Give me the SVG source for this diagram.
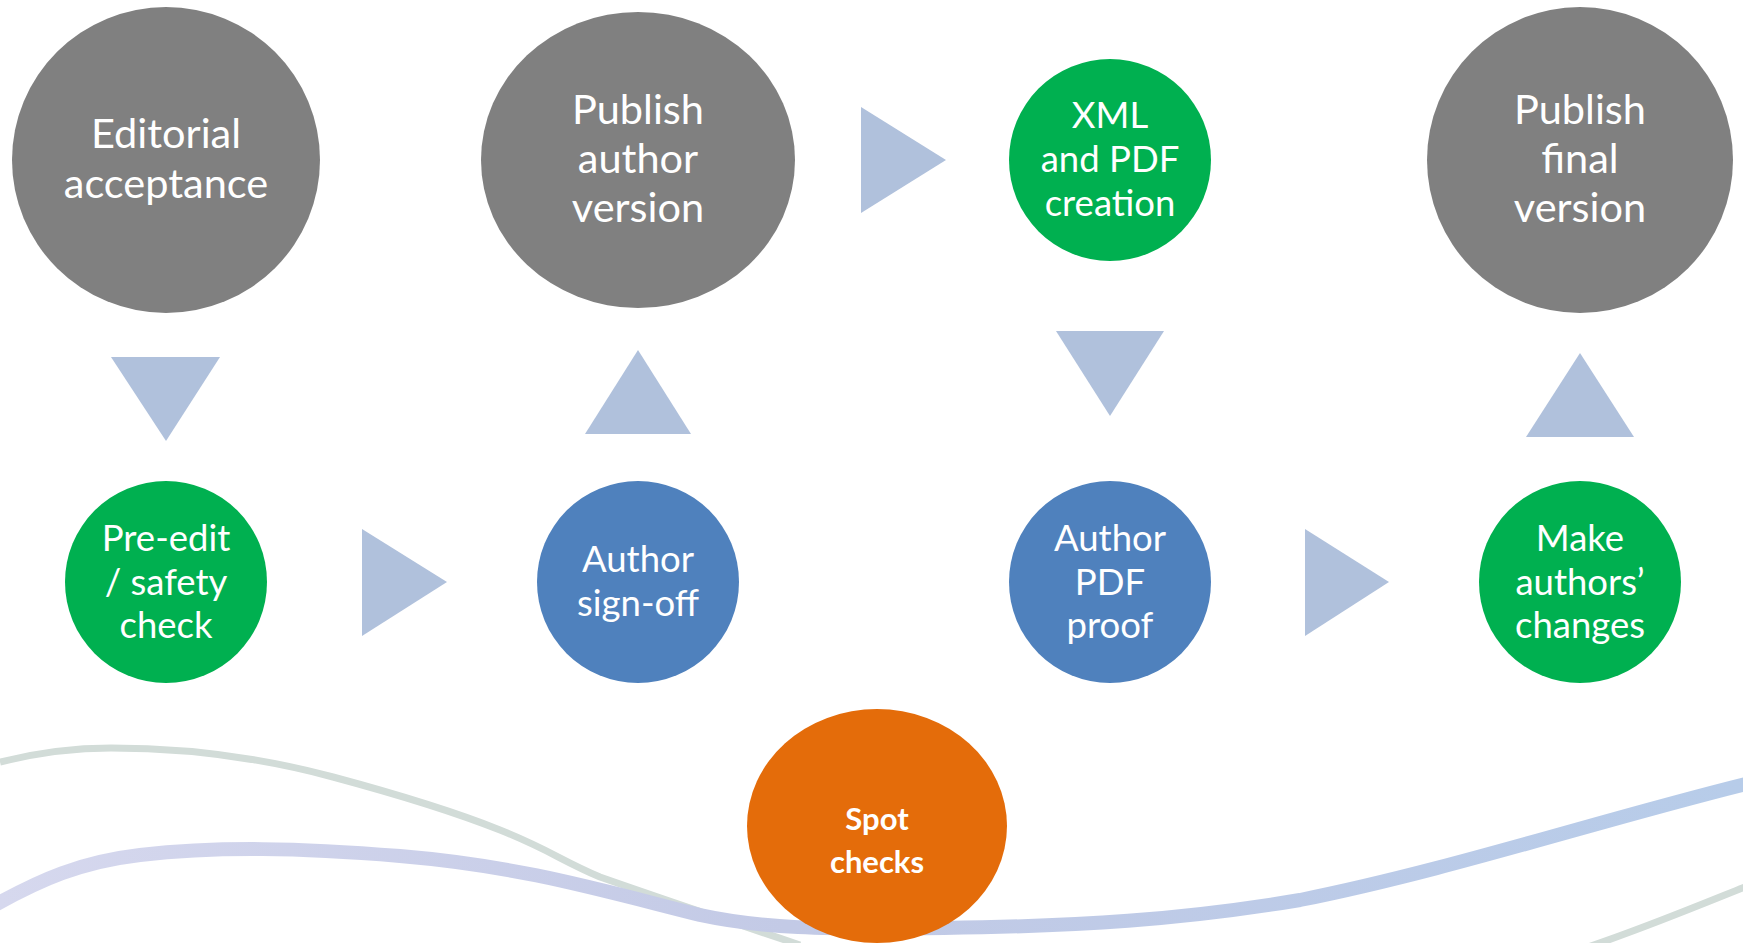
<svg xmlns="http://www.w3.org/2000/svg" width="1743" height="943" viewBox="0 0 1743 943">
<style>
.t{font-family:Lato,"Open Sans","Liberation Sans",sans-serif;fill:#fff;text-anchor:middle}
.big{font-size:41.5px}
.med{font-size:36.5px}
.sm{font-size:31px;font-weight:bold}
.gray{fill:#808080}
.green{fill:#00B050}
.blue{fill:#4F81BD}
.orange{fill:#E46C0A}
.arr{fill:#B0C1DC}
</style>
<defs>
<linearGradient id="lav" x1="0" y1="0" x2="1743" y2="0" gradientUnits="userSpaceOnUse">
<stop offset="0" stop-color="#D6D8EE"/>
<stop offset="0.45" stop-color="#C3CAE6"/>
<stop offset="1" stop-color="#B7CCE9"/>
</linearGradient>
</defs>
<rect width="1743" height="943" fill="#fff"/>
<g id="background" fill="none">
<path d="M0,762 C40,752 80,748 111,748 C200,748 270,760 333,777 C400,795 450,810 500,830 S560,860 600,877 C680,905 740,925 800,945" stroke="#D2DCD8" stroke-width="7"/>
<path d="M-5,905 C40,880 80,862 140,855 C220,846 300,848 400,856 C520,866 600,890 700,915 C760,928 820,930 944,928 C1080,926 1180,920 1300,900 C1450,870 1600,820 1750,783" stroke="url(#lav)" stroke-width="14"/>
<path d="M1585,948 C1640,930 1700,905 1750,885" stroke="#D2DCD8" stroke-width="7"/>
</g>
<g id="connectors">
<polygon class="arr" points="111,357 220,357 166,441"/>
<polygon class="arr" points="585,434 691,434 638,350"/>
<polygon class="arr" points="861,107 861,213 946,160"/>
<polygon class="arr" points="1056,331 1164,331 1110,416"/>
<polygon class="arr" points="1526,437 1634,437 1580,353"/>
<polygon class="arr" points="362,529 362,636 447,582"/>
<polygon class="arr" points="1305,529 1305,636 1389,582"/>
</g>
<g id="editorial">
<ellipse class="gray" cx="166" cy="160" rx="154" ry="153"/>
<text class="t big" x="166" y="148">Editorial</text>
<text class="t big" x="166" y="198">acceptance</text>
</g>
<g id="publish-author">
<ellipse class="gray" cx="638" cy="160" rx="157" ry="148"/>
<text class="t big" x="638" y="124">Publish</text>
<text class="t big" x="638" y="173">author</text>
<text class="t big" x="638" y="222">version</text>
</g>
<g id="xml-pdf">
<circle class="green" cx="1110" cy="160" r="101"/>
<text class="t med" x="1110" y="128">XML</text>
<text class="t med" x="1110" y="172">and PDF</text>
<text class="t med" x="1110" y="216">creation</text>
</g>
<g id="publish-final">
<ellipse class="gray" cx="1580" cy="160" rx="153" ry="153"/>
<text class="t big" x="1580" y="124">Publish</text>
<text class="t big" x="1580" y="173">final</text>
<text class="t big" x="1580" y="222">version</text>
</g>
<g id="pre-edit">
<circle class="green" cx="166" cy="582" r="101"/>
<text class="t med" x="166" y="551">Pre-edit</text>
<text class="t med" x="166" y="595">/ safety</text>
<text class="t med" x="166" y="638">check</text>
</g>
<g id="author-signoff">
<circle class="blue" cx="638" cy="582" r="101"/>
<text class="t med" x="638" y="572">Author</text>
<text class="t med" x="638" y="616">sign-off</text>
</g>
<g id="author-pdf">
<circle class="blue" cx="1110" cy="582" r="101"/>
<text class="t med" x="1110" y="551">Author</text>
<text class="t med" x="1110" y="595">PDF</text>
<text class="t med" x="1110" y="638">proof</text>
</g>
<g id="make-changes">
<circle class="green" cx="1580" cy="582" r="101"/>
<text class="t med" x="1580" y="551">Make</text>
<text class="t med" x="1580" y="595">authors’</text>
<text class="t med" x="1580" y="638">changes</text>
</g>
<g id="spot-checks">
<ellipse class="orange" cx="877" cy="826" rx="130" ry="117"/>
<text class="t sm" x="877" y="830">Spot</text>
<text class="t sm" x="877" y="873">checks</text>
</g>
</svg>
